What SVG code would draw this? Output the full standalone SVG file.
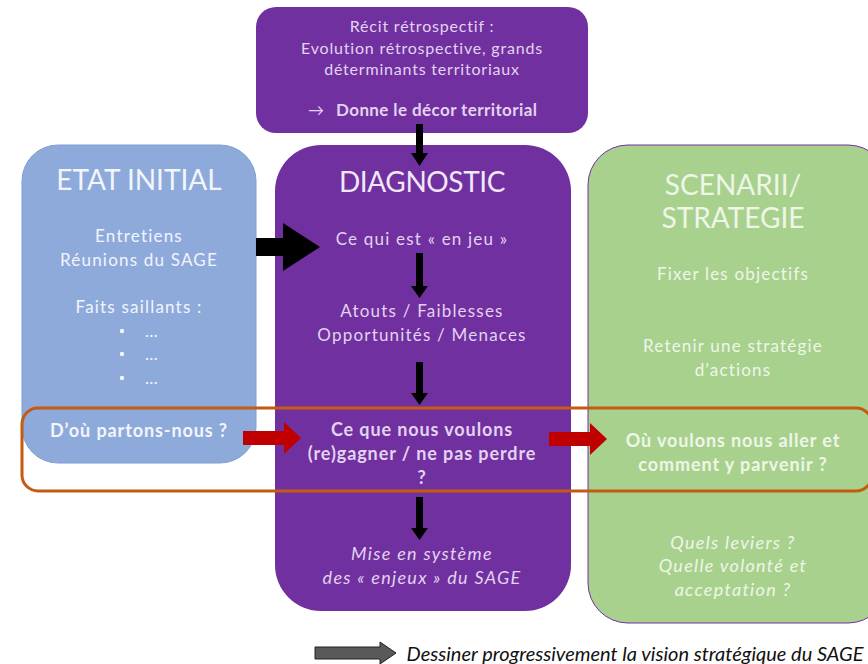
<svg xmlns="http://www.w3.org/2000/svg" width="868" height="664" viewBox="0 0 868 664">
<defs>
<style>
text{font-family:Lato,"Noto Sans","Liberation Sans",sans-serif;text-anchor:middle}
.t{font-size:17px;letter-spacing:1.2px}
.b{font-weight:bold;font-size:18px;letter-spacing:0.9px}
.i{font-style:italic;font-size:18px;letter-spacing:1.3px}
.pt{fill:#E3D3EF}
.wt{fill:#F2F5FB}
.gt{fill:#EEF6E8}
.title{font-size:28px}
.r{font-size:16px;letter-spacing:0.8px}
</style>
</defs>
<rect width="868" height="664" fill="#ffffff"/>
<g id="etat">
<rect x="22" y="145" width="234" height="318" rx="36" fill="#8EAADB" stroke="#7F9ED3" stroke-width="1"/>
<text x="139" y="190" class="title wt">ETAT INITIAL</text>
<text x="139" y="242" class="t wt">Entretiens</text>
<text x="139" y="266" class="t wt">Réunions du SAGE</text>
<text x="139" y="313" class="t wt">Faits saillants :</text>
<circle cx="122" cy="331" r="2.2" fill="#F2F5FB"/><text x="152" y="337" class="t wt">…</text>
<circle cx="122" cy="354" r="2.2" fill="#F2F5FB"/><text x="152" y="360" class="t wt">…</text>
<circle cx="122" cy="378" r="2.2" fill="#F2F5FB"/><text x="152" y="384" class="t wt">…</text>
<text x="139" y="437" class="b wt">D’où partons-nous ?</text>
</g>
<g id="scenarii">
<rect x="588" y="145" width="300" height="478" rx="40" fill="#A9D18E" stroke="#7030A0" stroke-width="1"/>
<text x="733" y="195" class="title gt">SCENARII/</text>
<text x="733" y="228" class="title gt">STRATEGIE</text>
<text x="733" y="280" class="t gt">Fixer les objectifs</text>
<text x="733" y="352" class="t gt">Retenir une stratégie</text>
<text x="733" y="376" class="t gt">d’actions</text>
<text x="733" y="447" class="b gt">Où voulons nous aller et</text>
<text x="733" y="471" class="b gt">comment y parvenir ?</text>
<text x="733" y="549" class="i gt">Quels leviers ?</text>
<text x="733" y="572" class="i gt">Quelle volonté et</text>
<text x="733" y="596" class="i gt">acceptation ?</text>
</g>
<g id="diagnostic">
<rect x="275" y="145" width="296" height="466" rx="46" fill="#7030A0"/>
<text x="422" y="192" class="title" fill="#F1E8F7" letter-spacing="-0.4">DIAGNOSTIC</text>
<text x="422" y="245" class="t pt" letter-spacing="1.6">Ce qui est « en jeu »</text>
<text x="422" y="317" class="t pt">Atouts / Faiblesses</text>
<text x="422" y="341" class="t pt">Opportunités / Menaces</text>
<text x="422" y="436" class="b pt">Ce que nous voulons</text>
<text x="422" y="460" class="b pt">(re)gagner / ne pas perdre</text>
<text x="422" y="484" class="b pt">?</text>
<text x="422" y="560" class="i pt">Mise en système</text>
<text x="422" y="584" class="i pt">des « enjeux » du SAGE</text>
</g>
<g id="recit">
<rect x="256" y="7" width="332" height="126" rx="20" fill="#7030A0"/>
<text x="422" y="32" class="r pt">Récit rétrospectif :</text>
<text x="422" y="54" class="r pt">Evolution rétrospective, grands</text>
<text x="422" y="75" class="r pt">déterminants territoriaux</text>
<text x="316" y="116" class="pt" font-size="16">→</text>
<text x="336" y="116" class="pt" font-size="17" font-weight="bold" letter-spacing="0.4" text-anchor="start" style="text-anchor:start">Donne le décor territorial</text>
</g>
<g id="focus">
<rect x="22" y="408" width="850" height="83" rx="16" fill="none" stroke="#C55A11" stroke-width="3"/>
</g>
<g id="connectors">
<polygon points="416,124 423,124 423,153 428,153 419.5,166 411,153 416,153" fill="#000"/>
<polygon points="256,238 283,238 283,223 320,247 283,271 283,256 256,256" fill="#000"/>
<polygon points="416,253 423,253 423,286 428,286 419.5,298 411,286 416,286" fill="#000"/>
<polygon points="416,362 423,362 423,393 428,393 419.5,405 411,393 416,393" fill="#000"/>
<polygon points="416,497 423,497 423,528 428,528 419.5,540 411,528 416,528" fill="#000"/>
<polygon points="243,431 284,431 284,422 301,438 284,454 284,445 243,445" fill="#C00000"/>
<polygon points="549,432 590,432 590,423 607,439 590,455 590,446 549,446" fill="#C00000"/>
</g>
<g id="legend">
<polygon points="315,647 380,647 380,642 396,653 380,664 380,659 315,659" fill="#595959" stroke="#222" stroke-width="1"/>
<text x="635" y="661" font-size="20" font-style="italic" fill="#111">Dessiner progressivement la vision stratégique du SAGE</text>
</g>
</svg>
